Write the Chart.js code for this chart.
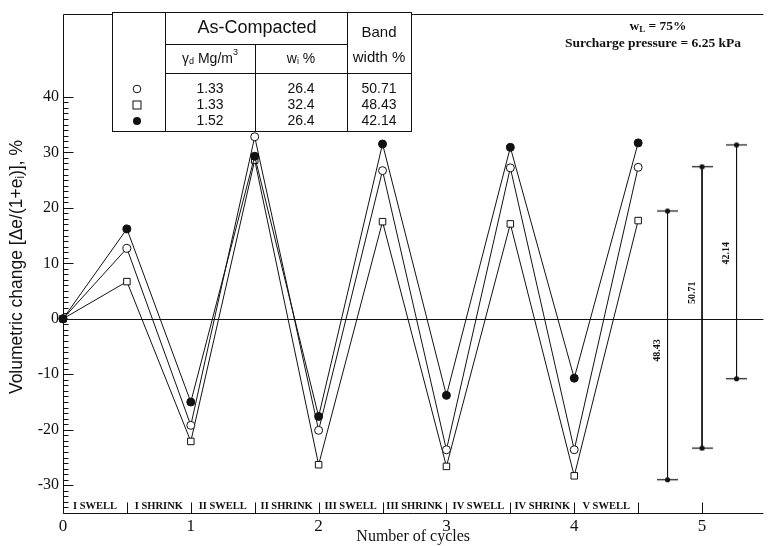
<!DOCTYPE html>
<html>
<head>
<meta charset="utf-8">
<script src="https://cdn.jsdelivr.net/npm/chart.js@4.4.1/dist/chart.umd.min.js"></script>
<style>
  html, body { margin: 0; padding: 0; background: #fff; }
  canvas { display: block; }
</style>
</head>
<body>
<canvas id="chart" width="769" height="546"></canvas>
<script>
// Volumetric change during repeated swell-shrink cycles
const cycles = [0, 0.5, 1, 1.5, 2, 2.5, 3, 3.5, 4, 4.5];
// gamma_d 1.33 Mg/m3, w_i 26.4 % (open circle)
const seriesOpenCircle = [0, 12.7, -19.2, 32.8, -20.1, 26.7, -23.6, 27.2, -23.6, 27.3];
// gamma_d 1.33 Mg/m3, w_i 32.4 % (open square)
const seriesOpenSquare = [0, 6.7, -22.1, 28.6, -26.3, 17.5, -26.6, 17.1, -28.3, 17.7];
// gamma_d 1.52 Mg/m3, w_i 26.4 % (filled circle)
const seriesFilled = [0, 16.2, -15.0, 29.3, -17.6, 31.5, -13.8, 30.9, -10.7, 31.7];

// As-compacted state and band widths, in table row order
const dryDensity = ['1.33', '1.33', '1.52'];
const waterContent = ['26.4', '32.4', '26.4'];
const bandWidth = [50.71, 48.43, 42.14];
const bandCycle = [5.0, 4.73, 5.27];
const bandLow = [-23.3, -29.0, -10.8];

const phaseLabels = ['I SWELL', 'I SHRINK', 'II SWELL', 'II SHRINK', 'III SWELL',
                     'III SHRINK', 'IV SWELL', 'IV SHRINK', 'V SWELL'];
const phaseCentres = [0.25, 0.75, 1.25, 1.75, 2.25, 2.75, 3.25, 3.75, 4.25];
const phaseBounds = [0.5, 1, 1.5, 2, 2.5, 3, 3.5, 4, 4.5, 5];
const xTickValues = [0, 1, 2, 3, 4, 5];
const yTickValues = [-30, -20, -10, 0, 10, 20, 30, 40];

// --- drawing setup ---
const ink = '#111';
const serif = '"Liberation Serif", "Times New Roman", serif';
const sans = '"Liberation Sans", Arial, Helvetica, sans-serif';
const bandLabelAt = [4.7, -5.7, 11.8];   // value at which each rotated band label is centred
const table = { left: 112, right: 411, top: 12, bottom: 131, c1: 165, c2: 255, c3: 347,
                rule1: 44, rule2: 73, rows: [89, 105, 121] };

function capImage() {
  const c = document.createElement('canvas');
  c.width = 21; c.height = 7;
  const g = c.getContext('2d');
  g.strokeStyle = ink; g.lineWidth = 1.2;
  g.beginPath(); g.moveTo(0, 3.5); g.lineTo(21, 3.5); g.stroke();
  g.fillStyle = ink;
  g.beginPath(); g.arc(10.5, 3.5, 2.6, 0, Math.PI * 2); g.fill();
  return c;
}
const cap = capImage();

const pts = vals => cycles.map((c, i) => ({ x: c, y: vals[i] }));
const seriesStyle = {
  borderColor: ink, borderWidth: 1, tension: 0, pointBorderColor: ink,
  pointBorderWidth: 1, pointHoverRadius: 4, clip: false, fill: false
};

const datasets = [
  Object.assign({ data: pts(seriesFilled), pointStyle: 'circle', pointRadius: 4,
                  pointBackgroundColor: ink }, seriesStyle),
  Object.assign({ data: pts(seriesOpenCircle), pointStyle: 'circle', pointRadius: 4,
                  pointBackgroundColor: '#fff' }, seriesStyle),
  Object.assign({ data: pts(seriesOpenSquare), pointStyle: 'rect', pointRadius: 4.6,
                  pointBackgroundColor: '#fff' }, seriesStyle)
];
bandWidth.forEach((w, i) => {
  datasets.push({
    data: [{ x: bandCycle[i], y: bandLow[i] + w }, { x: bandCycle[i], y: bandLow[i] }],
    borderColor: ink, borderWidth: 1, pointStyle: cap, pointRadius: 4, clip: false, fill: false
  });
});

function hline(ctx, x1, x2, y) { ctx.beginPath(); ctx.moveTo(x1, y); ctx.lineTo(x2, y); ctx.stroke(); }
function vline(ctx, x, y1, y2) { ctx.beginPath(); ctx.moveTo(x, y1); ctx.lineTo(x, y2); ctx.stroke(); }

function runsWidth(ctx, runs) {
  let w = 0;
  for (const r of runs) { ctx.font = r.f; w += ctx.measureText(r.t).width; }
  return w;
}
function drawRuns(ctx, runs, cx, cy) {
  let x = cx - runsWidth(ctx, runs) / 2;
  ctx.textAlign = 'left'; ctx.textBaseline = 'middle';
  for (const r of runs) {
    ctx.font = r.f;
    ctx.fillText(r.t, x, cy + (r.dy || 0));
    x += ctx.measureText(r.t).width;
  }
}

const decorations = {
  id: 'decorations',
  beforeDatasetsDraw(chart) {
    const { ctx, chartArea: a, scales: { x, y } } = chart;
    ctx.save();
    ctx.strokeStyle = ink; ctx.lineWidth = 1;
    const top = Math.round(a.top) + 0.5, bot = Math.round(a.bottom) + 0.5, left = Math.round(a.left) + 0.5;
    hline(ctx, left, a.right, top);
    hline(ctx, left, a.right, bot);
    vline(ctx, left, top, bot);
    hline(ctx, left, a.right, Math.round(y.getPixelForValue(0)) + 0.5);
    // inward ticks on the vertical axis
    for (let v = -35; v <= 40; v++) {
      const py = Math.round(y.getPixelForValue(v)) + 0.5;
      hline(ctx, left, left + (v % 10 === 0 ? 10 : 5), py);
    }
    // phase boundaries above the horizontal axis
    for (const b of phaseBounds) {
      const px = Math.round(x.getPixelForValue(b)) + 0.5;
      vline(ctx, px, bot - 11, bot);
    }
    ctx.fillStyle = ink;
    ctx.font = 'bold 10.5px ' + serif;
    ctx.textAlign = 'center'; ctx.textBaseline = 'middle';
    phaseLabels.forEach((t, i) => ctx.fillText(t, x.getPixelForValue(phaseCentres[i]), bot - 7));
    ctx.restore();
  },
  afterDraw(chart) {
    const { ctx, chartArea: a, scales: { x, y } } = chart;
    ctx.save();
    ctx.fillStyle = ink; ctx.strokeStyle = ink; ctx.lineWidth = 1;

    // band width labels beside the bars
    ctx.font = 'bold 10px ' + serif;
    ctx.textAlign = 'center'; ctx.textBaseline = 'middle';
    bandWidth.forEach((w, i) => {
      ctx.save();
      ctx.translate(x.getPixelForValue(bandCycle[i]) - 10, y.getPixelForValue(bandLabelAt[i]));
      ctx.rotate(-Math.PI / 2);
      ctx.fillText(w.toFixed(2), 0, 0);
      ctx.restore();
    });

    // axis titles
    ctx.font = '16px ' + serif;
    ctx.textAlign = 'center'; ctx.textBaseline = 'middle';
    ctx.fillText('Number of cycles', (a.left + a.right) / 2, 537);
    ctx.save();
    ctx.translate(17, 267);
    ctx.rotate(-Math.PI / 2);
    drawRuns(ctx, [
      { t: 'Volumetric change [\u0394e/(1+e', f: '17.5px ' + sans },
      { t: 'i', f: '12px ' + sans, dy: 4 },
      { t: ')], %', f: '17.5px ' + sans }
    ], 0, 0);
    ctx.restore();

    // test conditions
    drawRuns(ctx, [
      { t: 'w', f: 'bold 13.5px ' + serif },
      { t: 'L', f: 'bold 9px ' + serif, dy: 3 },
      { t: ' = 75%', f: 'bold 13.5px ' + serif }
    ], 658, 27);
    drawRuns(ctx, [{ t: 'Surcharge pressure = 6.25 kPa', f: 'bold 13.5px ' + serif }], 653, 44);

    // sample table
    const T = table;
    ctx.fillStyle = '#fff';
    ctx.fillRect(T.left, T.top, T.right - T.left, T.bottom - T.top);
    ctx.fillStyle = ink;
    ctx.strokeRect(T.left + 0.5, T.top + 0.5, T.right - T.left, T.bottom - T.top);
    vline(ctx, T.c1 + 0.5, T.top, T.bottom);
    vline(ctx, T.c3 + 0.5, T.top, T.bottom);
    vline(ctx, T.c2 + 0.5, T.rule1, T.bottom);
    hline(ctx, T.c1, T.c3, T.rule1 + 0.5);
    hline(ctx, T.c1, T.right, T.rule2 + 0.5);

    const f14 = '14px ' + sans, f15 = '15px ' + sans;
    drawRuns(ctx, [{ t: 'As-Compacted', f: '18px ' + sans }], (T.c1 + T.c3) / 2 + 1, 28);
    drawRuns(ctx, [{ t: 'Band', f: f15 }], (T.c3 + T.right) / 2, 33);
    drawRuns(ctx, [{ t: 'width %', f: f15 }], (T.c3 + T.right) / 2, 58);
    drawRuns(ctx, [
      { t: '\u03B3', f: f14 }, { t: 'd', f: '9px ' + sans, dy: 3 },
      { t: ' Mg/m', f: f14 }, { t: '3', f: '9px ' + sans, dy: -6 }
    ], (T.c1 + T.c2) / 2, 59);
    drawRuns(ctx, [
      { t: 'w', f: f14 }, { t: 'i', f: '9px ' + sans, dy: 3 }, { t: ' %', f: f14 }
    ], (T.c2 + T.c3) / 2, 59);

    const mx = 137;
    T.rows.forEach((ry, i) => {
      drawRuns(ctx, [{ t: dryDensity[i], f: f14 }], (T.c1 + T.c2) / 2, ry);
      drawRuns(ctx, [{ t: waterContent[i], f: f14 }], (T.c2 + T.c3) / 2, ry);
      drawRuns(ctx, [{ t: bandWidth[i].toFixed(2), f: f14 }], (T.c3 + T.right) / 2, ry);
    });
    // row markers
    ctx.beginPath(); ctx.arc(mx, T.rows[0], 3.8, 0, Math.PI * 2);
    ctx.fillStyle = '#fff'; ctx.fill(); ctx.stroke();
    ctx.strokeRect(mx - 4, T.rows[1] - 4, 8, 8);
    ctx.fillStyle = ink;
    ctx.beginPath(); ctx.arc(mx, T.rows[2], 4, 0, Math.PI * 2); ctx.fill();
    ctx.restore();
  }
};

new Chart(document.getElementById('chart'), {
  type: 'line',
  data: { datasets },
  options: {
    responsive: false,
    animation: false,
    devicePixelRatio: 1,
    layout: { padding: { top: 12, right: 0, bottom: 0, left: 0 } },
    plugins: { legend: { display: false }, tooltip: { enabled: false } },
    scales: {
      x: {
        type: 'linear', min: 0, max: 5.48,
        grid: { display: false, drawTicks: false },
        border: { display: false },
        afterBuildTicks: s => { s.ticks = xTickValues.map(v => ({ value: v })); },
        afterFit: s => { s.height = 33; },
        ticks: { color: ink, font: { family: serif, size: 17 }, padding: 3, maxRotation: 0 }
      },
      y: {
        type: 'linear', min: -35, max: 55,
        grid: { display: false, drawTicks: false },
        border: { display: false },
        afterBuildTicks: s => { s.ticks = yTickValues.map(v => ({ value: v })); },
        afterFit: s => { s.width = 63; },
        ticks: { color: ink, font: { family: serif, size: 16 }, padding: 4 }
      }
    }
  },
  plugins: [decorations]
});
</script>
</body>
</html>
